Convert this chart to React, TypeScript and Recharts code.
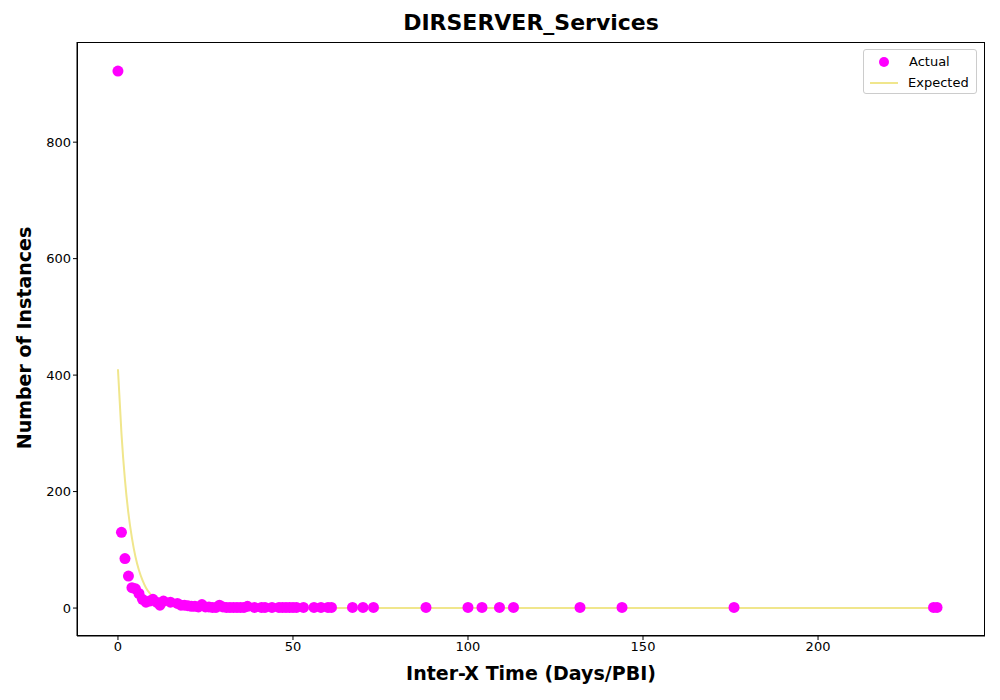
import React from 'react';
import { ComposedChart, Scatter, Line, XAxis, YAxis } from 'recharts';

const actualX = [0, 1, 2, 3, 4, 5, 6, 7, 8, 9, 10, 11, 12, 13, 15, 17, 18, 19, 20, 21, 22, 23, 24, 25, 26, 27, 28, 29, 30, 31, 32, 33, 34, 35, 36, 37, 39, 41, 42, 44, 46, 47, 48, 49, 50, 51, 53, 56, 58, 60, 61, 67, 70, 73, 88, 100, 104, 109, 113, 132, 144, 176, 233, 234];
const actualY = [922, 130, 85, 55, 35, 33, 25, 15, 10, 12, 15, 10, 5, 12, 10, 8, 5, 5, 4, 3, 3, 2, 6, 2, 2, 1, 1, 5, 2, 1, 1, 1, 1, 1, 1, 3, 1, 1, 1, 1, 1, 1, 1, 1, 1, 1, 1, 1, 1, 1, 1, 1, 1, 1, 1, 1, 1, 1, 1, 1, 1, 1, 1, 1];
const expectedX = [0, 1, 2, 3, 4, 5, 6, 7, 8, 9, 10, 12, 14, 16, 18, 20, 25, 30, 40, 60, 100, 150, 200, 234];
const expectedY = [410, 300, 220, 162, 120, 88, 65, 48, 35, 26, 19, 10, 5.5, 3, 1.6, 0.9, 0.2, 0.05, 0, 0, 0, 0, 0, 0];
const xTicks = [0, 50, 100, 150, 200];
const yTicks = [0, 200, 400, 600, 800];

const actual = actualX.map((x, i) => ({ x, y: actualY[i] }));
const expected = expectedX.map((x, i) => ({ x, y: expectedY[i] }));

const font = 'DejaVu Sans, sans-serif';

const LegendBox = () => (
  <div style={{ position: 'absolute', left: 863, top: 49, width: 114, height: 45, border: '1px solid #ccc', borderRadius: 3, background: '#fff', fontFamily: font, fontSize: 13, boxSizing: 'border-box' }}>
    <div style={{ position: 'absolute', left: 6, top: 4, display: 'flex', alignItems: 'center' }}>
      <span style={{ display: 'inline-block', width: 10, height: 10, borderRadius: 5, background: '#ff00ff', margin: '0 20px 0 9px' }} />Actual
    </div>
    <div style={{ position: 'absolute', left: 6, top: 25, display: 'flex', alignItems: 'center' }}>
      <span style={{ display: 'inline-block', width: 28, height: 2, background: '#f0e68c', margin: '0 10px 0 0' }} />Expected
    </div>
  </div>
);

export default function App() {
  return (
    <div style={{ position: 'absolute', left: 0, top: 0, width: 1000, height: 700, background: '#fff', fontFamily: font, overflow: 'hidden' }}>
      <div style={{ position: 'absolute', top: 10, left: 77, width: 908, textAlign: 'center', fontSize: 22, fontWeight: 'bold' }}>DIRSERVER_Services</div>
      <ComposedChart width={1000} height={700} margin={{ top: 42, right: 15, bottom: 34, left: 17 }}>
        <XAxis type="number" dataKey="x" height={30} domain={[-11.7, 247.7]} ticks={xTicks} allowDataOverflow
          tick={{ fill: '#000', fontSize: 13 }} stroke="#000" tickSize={4} />
        <YAxis type="number" dataKey="y" width={60} domain={[-48, 972]} ticks={yTicks} allowDataOverflow
          tick={{ fill: '#000', fontSize: 13 }} stroke="#000" tickSize={4} />
        <Line data={expected} dataKey="y" type="monotone" stroke="#f0e68c" strokeWidth={2} dot={false} isAnimationActive={false} />
        <Scatter data={actual} dataKey="y" fill="#ff00ff" shape={(p: any) => <circle cx={p.cx} cy={p.cy} r={5.5} fill="#ff00ff" />} isAnimationActive={false} />
      </ComposedChart>
      <div style={{ position: 'absolute', left: 77, top: 42, width: 908, height: 594, border: '1px solid #000', boxSizing: 'border-box', pointerEvents: 'none' }} />
      <div style={{ position: 'absolute', top: 662, left: 77, width: 908, textAlign: 'center', fontSize: 19, fontWeight: 'bold' }}>Inter-X Time (Days/PBI)</div>
      <div style={{ position: 'absolute', left: 24, top: 339, width: 0, height: 0 }}>
        <div style={{ position: 'absolute', left: -150, top: -12, width: 300, textAlign: 'center', fontSize: 19, fontWeight: 'bold', transform: 'rotate(-90deg)', whiteSpace: 'nowrap' }}>Number of Instances</div>
      </div>
      <LegendBox />
    </div>
  );
}
